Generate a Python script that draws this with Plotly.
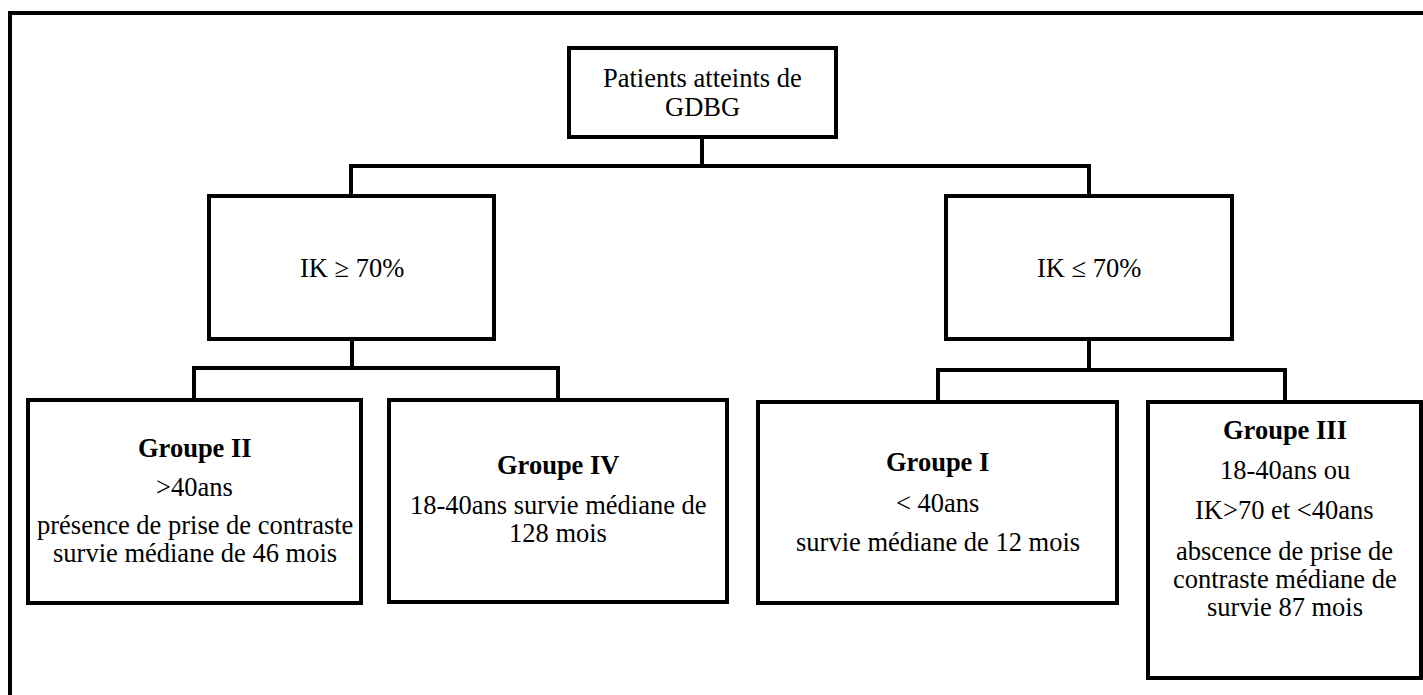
import plotly.graph_objects as go

# node texts (one entry per printed line, bold title first for the groups)
root_lines = ["Patients atteints de", "GDBG"]
left_lines = ["IK \u2265 70%"]
right_lines = ["IK \u2264 70%"]
g2_lines = ["<b>Groupe II</b>", ">40ans", "pr\u00e9sence de prise de contraste", "survie m\u00e9diane de 46 mois"]
g4_lines = ["<b>Groupe IV</b>", "18-40ans survie m\u00e9diane de", "128 mois"]
g1_lines = ["<b>Groupe I</b>", "< 40ans", "survie m\u00e9diane de 12 mois"]
g3_lines = ["<b>Groupe III</b>", "18-40ans ou", "IK>70 et <40ans", "abscence de prise de",
            "contraste m\u00e9diane de", "survie 87 mois"]

W, H = 1423, 695
LW = 4
FONT = dict(family="Liberation Serif", size=26.5, color="black")

# box geometry (x0, y0, x1, y1) in page pixels, and the y of each text line
boxes = {
    "root": ((569, 48, 836, 137), [78, 107], root_lines),
    "left": ((209, 196, 494, 339), [268], left_lines),
    "right": ((946, 196, 1232, 339), [268], right_lines),
    "g2": ((28, 400, 361, 603), [448, 487, 525, 553], g2_lines),
    "g4": ((389, 400, 727, 602), [465, 505, 533], g4_lines),
    "g1": ((758, 402, 1117, 603), [462, 503, 542], g1_lines),
    "g3": ((1148, 402, 1421, 678), [430, 470, 510, 551, 579, 607], g3_lines),
}

# elbow connectors: list of polyline vertices
connectors = [
    [(702, 137), (702, 166)],
    [(351, 196), (351, 166), (1089, 166), (1089, 196)],
    [(352, 339), (352, 368)],
    [(194, 400), (194, 368), (558, 368), (558, 400)],
    [(1089, 339), (1089, 370)],
    [(938, 402), (938, 370), (1285, 370), (1285, 402)],
]

fig = go.Figure()
shapes = []
annotations = []

# outer frame (runs off the right and bottom of the page)
shapes.append(dict(type="rect", xref="x", yref="y", x0=10, y0=13, x1=1450, y1=730,
                   line=dict(color="black", width=LW)))

for name, (rect, ys, lines) in boxes.items():
    x0, y0, x1, y1 = rect
    shapes.append(dict(type="rect", xref="x", yref="y", x0=x0, y0=y0, x1=x1, y1=y1,
                       line=dict(color="black", width=LW), fillcolor="white"))
    cx = (x0 + x1) / 2
    for y, txt in zip(ys, lines):
        annotations.append(dict(x=cx, y=y, xref="x", yref="y", text=txt, showarrow=False,
                                xanchor="center", yanchor="middle", font=FONT))

for pts in connectors:
    path = "M " + " L ".join(f"{x},{y}" for x, y in pts)
    shapes.append(dict(type="path", xref="x", yref="y", path=path,
                       line=dict(color="black", width=LW)))

fig.add_trace(go.Scatter(x=[0, W], y=[0, H], mode="markers", marker=dict(opacity=0),
                         hoverinfo="skip", showlegend=False))

fig.update_layout(
    width=W, height=H,
    margin=dict(l=0, r=0, t=0, b=0),
    paper_bgcolor="white", plot_bgcolor="white",
    xaxis=dict(range=[0, W], visible=False, fixedrange=True),
    yaxis=dict(range=[H, 0], visible=False, fixedrange=True),
    shapes=shapes,
    annotations=annotations,
    showlegend=False,
)

# drop the default page margin so the figure sits at the window corner
fig.write_html("out.html", config={"displayModeBar": False},
               post_script="document.body.style.margin='0';document.body.style.overflow='hidden';")
